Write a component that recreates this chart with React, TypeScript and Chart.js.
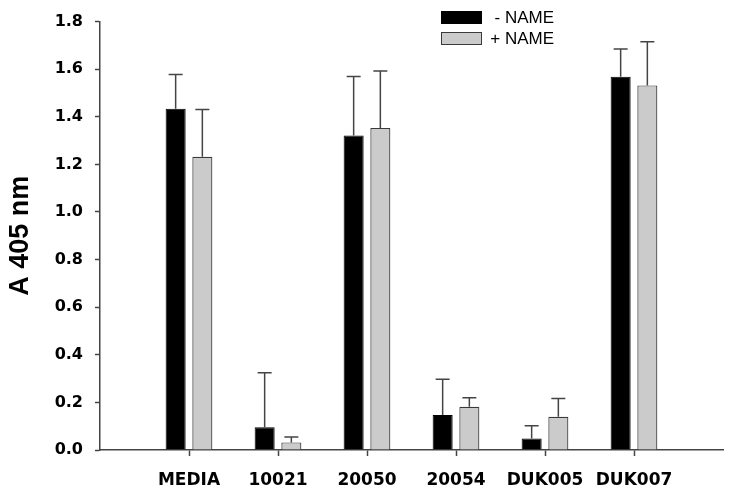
import React, { useEffect, useRef } from "react";
import { Chart, registerables } from "chart.js";

Chart.register(...registerables);

const categories = ["MEDIA", "10021", "20050", "20054", "DUK005", "DUK007"];
const minusName = [1.434, 0.096, 1.321, 0.147, 0.048, 1.568];
const minusErr = [0.144, 0.229, 0.248, 0.15, 0.054, 0.117];
const plusName = [1.232, 0.032, 1.353, 0.182, 0.14, 1.532];
const plusErr = [0.199, 0.023, 0.239, 0.038, 0.076, 0.183];
const seriesLabels = ["- NAME", "+ NAME"];
const yTicks = [0, 0.2, 0.4, 0.6, 0.8, 1.0, 1.2, 1.4, 1.6, 1.8];

const AXIS = "#444444";

const errorBarPlugin = {
  id: "errorBars",
  afterDatasetsDraw(chart: any) {
    const ctx = chart.ctx;
    const yScale = chart.scales.y;
    chart.data.datasets.forEach((ds: any, di: number) => {
      const meta = chart.getDatasetMeta(di);
      const errs: number[] = ds.errors || [];
      meta.data.forEach((bar: any, i: number) => {
        const v = ds.data[i].y;
        const e = errs[i];
        if (e == null) return;
        const yTop = yScale.getPixelForValue(v + e);
        const yBar = bar.y;
        const x = bar.x;
        ctx.save();
        ctx.strokeStyle = AXIS;
        ctx.lineWidth = 1.5;
        ctx.beginPath();
        ctx.moveTo(x, yBar);
        ctx.lineTo(x, yTop);
        ctx.moveTo(x - 7, yTop);
        ctx.lineTo(x + 7, yTop);
        ctx.stroke();
        ctx.restore();
      });
    });
  },
};

const legendPlugin = {
  id: "boxLegend",
  afterDraw(chart: any) {
    const ctx = chart.ctx;
    const boxX = 441;
    const boxW = 41;
    const boxH = 13;
    const textRight = 554;
    const rows = [11, 32];
    chart.data.datasets.forEach((ds: any, i: number) => {
      const y = rows[i];
      ctx.save();
      ctx.fillStyle = ds.backgroundColor;
      ctx.fillRect(boxX, y, boxW, boxH);
      ctx.strokeStyle = ds.borderColor;
      ctx.lineWidth = 1;
      ctx.strokeRect(boxX + 0.5, y + 0.5, boxW - 1, boxH - 1);
      ctx.fillStyle = "#000";
      ctx.font = "17px 'Liberation Sans', Arial, sans-serif";
      ctx.textAlign = "right";
      ctx.textBaseline = "middle";
      ctx.fillText(ds.label, textRight, y + boxH / 2 + 0.5);
      ctx.restore();
    });
  },
};

export default function App() {
  const canvasRef = useRef<HTMLCanvasElement | null>(null);

  useEffect(() => {
    if (!canvasRef.current) return;
    const chart = new Chart(canvasRef.current, {
      type: "bar",
      data: {
        datasets: [
          {
            label: seriesLabels[0],
            data: minusName.map((y, i) => ({ x: i + 1, y })),
            errors: minusErr,
            backgroundColor: "#000000",
            borderColor: "#000000",
            borderWidth: 1,
          } as any,
          {
            label: seriesLabels[1],
            data: plusName.map((y, i) => ({ x: i + 1, y })),
            errors: plusErr,
            backgroundColor: "#cbcbcb",
            borderColor: "#3a3a3a",
            borderWidth: 1.2,
          } as any,
        ],
      },
      options: {
        animation: false,
        responsive: true,
        maintainAspectRatio: false,
        layout: { padding: { top: 14, right: 7, bottom: 0, left: 0 } },
        datasets: {
          bar: { barPercentage: 0.75, categoryPercentage: 0.6 },
        },
        plugins: {
          legend: { display: false },
          tooltip: { enabled: false },
        },
        scales: {
          x: {
            type: "linear",
            min: 0,
            max: categories.length + 1,
            offset: false,
            afterBuildTicks: (scale: any) => {
              scale.ticks = categories.map((_, i) => ({ value: i + 1 }));
            },
            afterFit: (scale: any) => {
              scale.height = 43;
            },
            ticks: {
              autoSkip: false,
              maxRotation: 0,
              padding: 14,
              color: "#000",
              font: { family: "'DejaVu Sans', sans-serif", size: 17, weight: "bold" },
              callback: (v: any) => categories[Math.round(v) - 1] ?? "",
            },
            grid: {
              display: true,
              offset: false,
              drawOnChartArea: false,
              drawTicks: true,
              tickLength: 6,
              tickColor: AXIS,
              tickWidth: 1.5,
            },
            border: { display: true, color: AXIS, width: 1.5 },
          },
          y: {
            type: "linear",
            min: 0,
            max: 1.8,
            afterBuildTicks: (scale: any) => {
              scale.ticks = yTicks.map((v) => ({ value: v }));
            },
            afterFit: (scale: any) => {
              scale.width = 100;
            },
            ticks: {
              padding: 12,
              color: "#000",
              font: { family: "'DejaVu Sans', sans-serif", size: 16, weight: "bold" },
              callback: (v: any) => Number(v).toFixed(1),
            },
            grid: {
              display: true,
              offset: false,
              drawOnChartArea: false,
              drawTicks: true,
              tickLength: 5,
              tickColor: AXIS,
              tickWidth: 1.5,
            },
            border: { display: true, color: AXIS, width: 1.5 },
            title: {
              display: true,
              text: "A 405 nm",
              color: "#000",
              padding: { top: 4, bottom: 0 },
              font: { family: "'Liberation Sans', Arial, sans-serif", size: 27, weight: "bold" },
            },
          },
        },
      } as any,
      plugins: [errorBarPlugin, legendPlugin],
    });
    return () => chart.destroy();
  }, []);

  return (
    <div style={{ position: "absolute", left: 0, top: 0, width: 730, height: 493 }}>
      <canvas ref={canvasRef} />
    </div>
  );
}
